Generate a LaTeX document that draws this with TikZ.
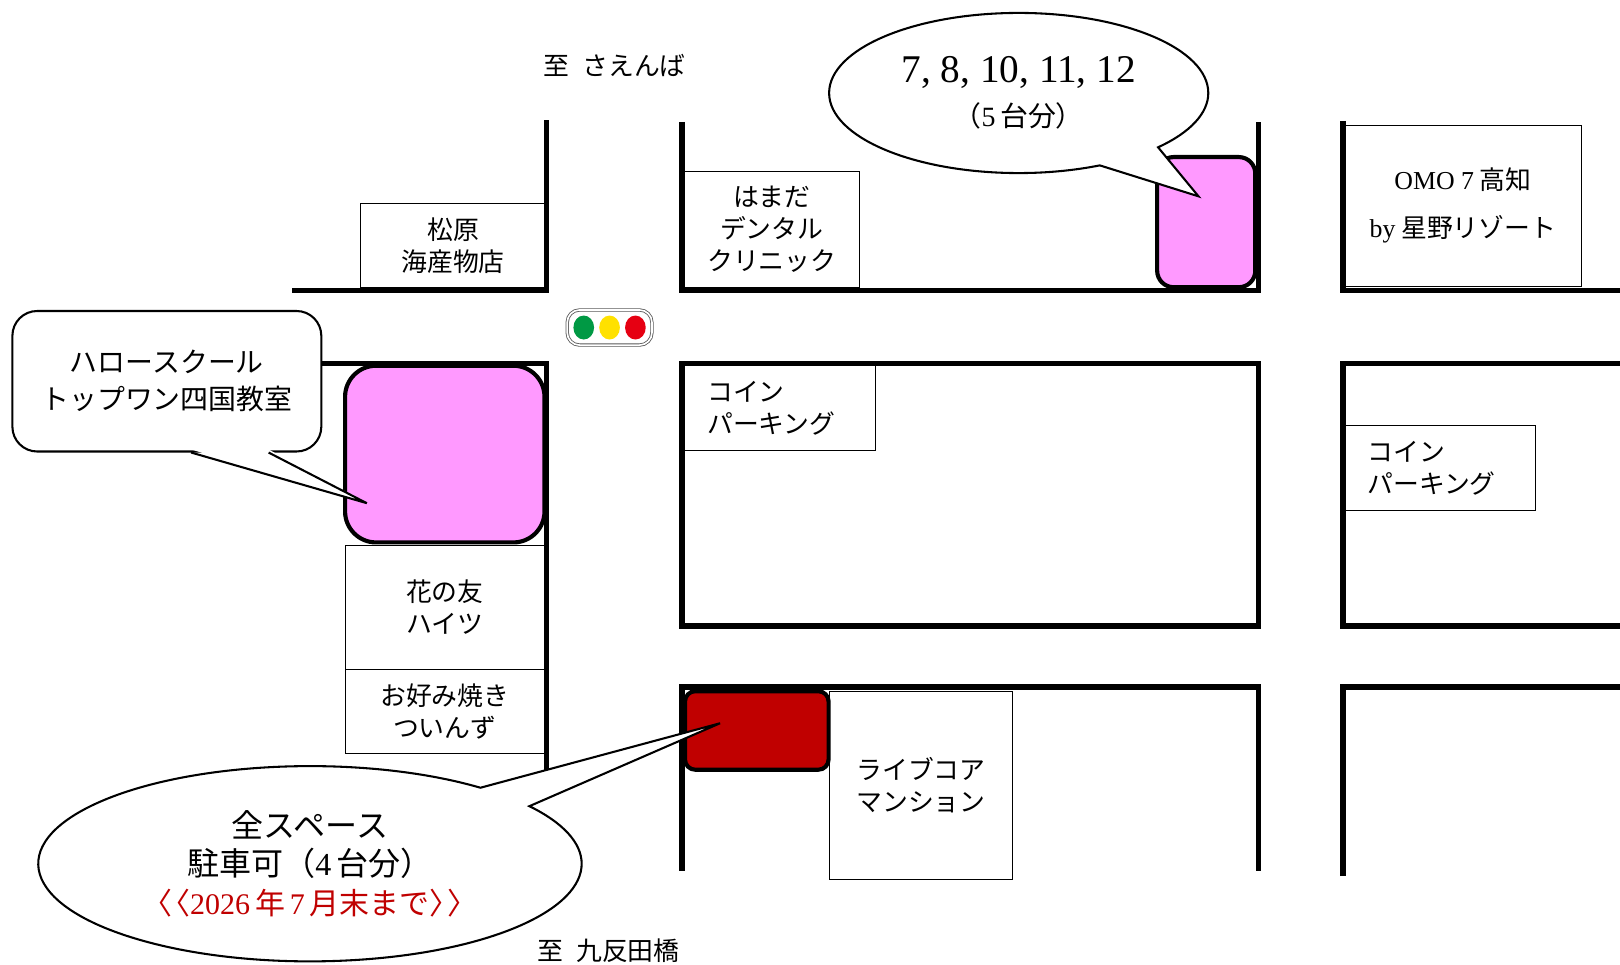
\documentclass[tikz,border=0pt]{standalone}
\usepackage{fontspec}
\setmainfont{Liberation Serif}
\newfontfamily\jpf{Noto Sans CJK JP}
\usetikzlibrary{calc,shapes.callouts}
\definecolor{pkPink}{HTML}{FF99FF}
\definecolor{pkRed}{HTML}{C00000}
\definecolor{sgGreen}{HTML}{009944}
\definecolor{sgYellow}{HTML}{FFE100}
\definecolor{sgRed}{HTML}{E60012}

\begin{document}
\begin{tikzpicture}[x=0.5pt,y=-0.5pt,
        road/.style={line width=2.6pt},
        shop/.style={draw,fill=white,line width=.5pt,inner sep=0pt,align=center,
            font=\jpf\fontsize{12.5}{15.5}\selectfont},
        lot/.style={draw,line width=2pt,rounded corners=#1},
        talk/.style={draw,fill=white,line width=1pt,ellipse callout,align=center}]

        \useasboundingbox (0,0) rectangle (1568,934);

        % shops
        \node[shop,minimum width=89.5pt,minimum height=40.5pt] (matsu) at (438.5,237.5) {松原\\海産物店};
        \node[shop,minimum width=85pt,minimum height=56pt] (hamada) at (747,222) {はまだ\\デンタル\\クリニック};
        \node[shop,minimum width=115pt,minimum height=78pt,font=\jpf\fontsize{12.5}{23.5}\selectfont] (omo) at (1416,199) {\textrm{OMO 7} 高知\\\textrm{by} 星野リゾート};
        \node[shop,minimum width=92.5pt,minimum height=41pt,text width=70pt,inner xsep=11.25pt,align=left] (coinA) at (754.5,395) {コイン\\パーキング};
        \node[shop,minimum width=92.5pt,minimum height=41pt,text width=70pt,inner xsep=11.25pt,align=left] (coinB) at (1393.5,453) {コイン\\パーキング};
        \node[shop,minimum width=96.5pt,minimum height=60pt] (hana) at (430.5,588) {花の友\\ハイツ};
        \node[shop,minimum width=96.5pt,minimum height=40.5pt] (okono) at (430.5,688.5) {お好み焼き\\ついんず};
        \node[shop,minimum width=88.5pt,minimum height=91pt] (live) at (891.5,760) {ライブコア\\マンション};

        % roads
        \draw[road] (283,281) -- (529,281) -- (529,116);
        \draw[road] (660,118) -- (660,281) -- (1218,281) -- (1218,118);
        \draw[road] (1300,117) -- (1300,281) -- (1568,281);
        \draw[road] (305,352) -- (529,352) -- (529,745);
        \draw[road] (660,352) rectangle (1218,606);
        \draw[road] (1568,352) -- (1300,352) -- (1300,606) -- (1568,606);
        \draw[road] (660,843) -- (660,665) -- (1218,665) -- (1218,843);
        \draw[road] (1300,848) -- (1300,665) -- (1568,665);

        % parking
        \node[lot=8pt,fill=pkPink,minimum width=47.5pt,minimum height=63pt] (lotA) at (1167.5,215) {};
        \node[lot=15pt,fill=pkPink,minimum width=96.5pt,minimum height=85.5pt] (lotB) at (430.5,439.5) {};
        \node[lot=5pt,fill=pkRed,minimum width=69.5pt,minimum height=38pt] (lotC) at (732.5,707) {};

        % signal
        \node[draw=gray!70!black,double,double distance=.8pt,rounded corners=6pt,fill=white,
            minimum width=41pt,minimum height=17pt] (signal) at (590,317) {};
        \foreach \x/\col in {-25/sgGreen,0/sgYellow,25/sgRed}
            \fill[\col] ($(signal.center)+(\x,0)$) ellipse (5pt and 5.8pt);

        % callouts
        \coordinate (tipA) at (1160,190);
        \coordinate (tipB) at (355,487);
        \coordinate (tipC) at (697,700);

        \node[talk,minimum width=183.5pt,minimum height=77.5pt,callout absolute pointer={(tipA)},
            callout pointer arc=22,font=\fontsize{19}{21.5}\selectfont] (cntA) at (986,90)
            {7, 8, 10, 11, 12\\{\jpf\fontsize{13.5}{21.5}\selectfont （\textrm{5}\,台分）}};

        \node[draw,fill=white,line width=1pt,rounded corners=12pt,minimum width=149.5pt,minimum height=68pt,
            align=center,font=\jpf\fontsize{13.5}{18}\selectfont] (cntB) at (161.5,369) {ハロースクール\\トップワン四国教室};
        \fill[white] ($(cntB.south)+(23.5,-3)$) -- (tipB) -- ($(cntB.south)+(98.5,-3)$) -- cycle;
        \draw[line width=1pt] ($(cntB.south)+(23.5,0)$) -- (tipB) -- ($(cntB.south)+(98.5,0)$);

        \node[talk,minimum width=263pt,minimum height=94.5pt,callout absolute pointer={(tipC)},
            callout pointer arc=15,font=\jpf\fontsize{15.5}{18.5}\selectfont] (cntC) at (300,836)
            {全スペース\\駐車可（\textrm{4}\,台分）\\{\color{pkRed}\fontsize{14.5}{18.5}\selectfont 〈\kern-.4em〈\textrm{2026}\,年\,\textrm{7}\,月末まで〉\kern-.4em〉}};

        % labels
        \node[font=\jpf\fontsize{12.5}{15}\selectfont] (toN) at (595,63) {至\enspace さえんば};
        \node[font=\jpf\fontsize{12.5}{15}\selectfont] (toS) at (589,920) {至\enspace 九反田橋};

\end{tikzpicture}
\end{document}
